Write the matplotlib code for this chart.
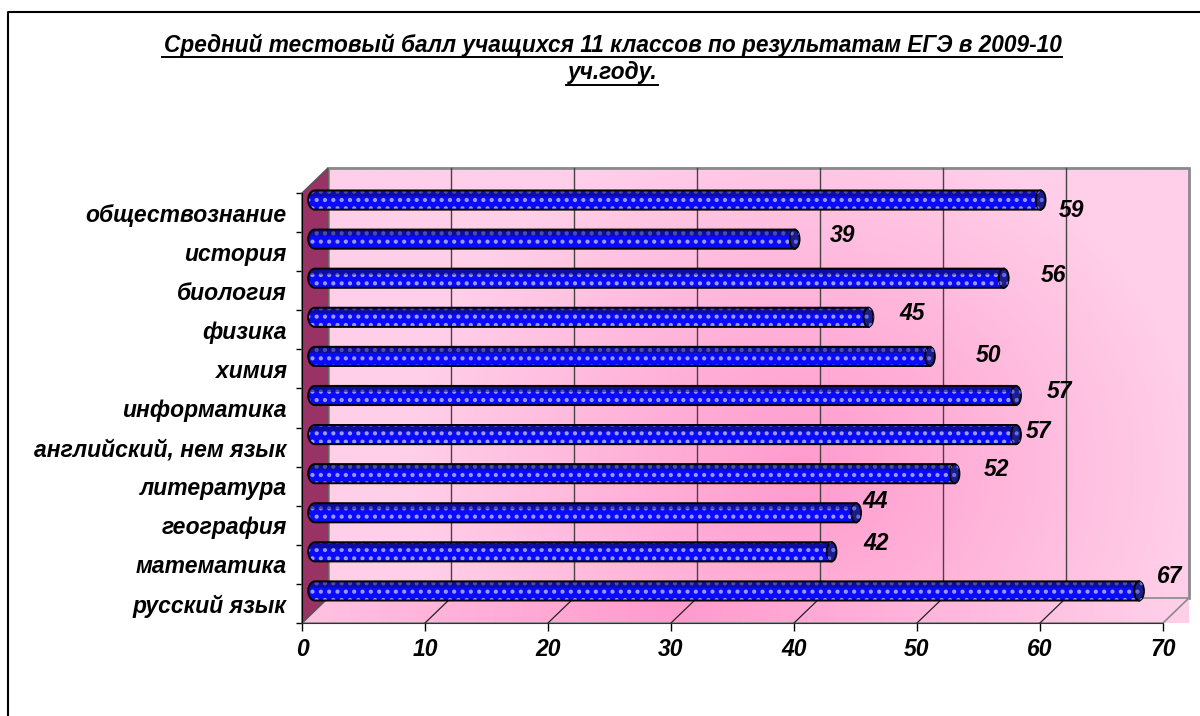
import numpy as np
import matplotlib
matplotlib.use('Agg')
import matplotlib.pyplot as plt
from matplotlib.patches import Polygon, Rectangle, Ellipse
from matplotlib.lines import Line2D

# data, bottom to top as in the chart
subjects = ['русский язык', 'математика', 'география', 'литература',
            'английский, нем язык', 'информатика', 'химия', 'физика',
            'биология', 'история', 'обществознание']
scores = [67, 42, 44, 52, 57, 57, 50, 45, 56, 39, 59]
x_ticks = [0, 10, 20, 30, 40, 50, 60, 70]
title_lines = ['Средний тестовый балл учащихся 11 классов по результатам ЕГЭ в 2009-10',
               'уч.году.']

# excel put the value labels a bit irregularly, nudges in pixels from bar end
label_nudge = [(31, 14), (45, 8), (19, 11), (42, 4), (22, 3), (43, 4),
               (59, 1), (44, 4), (50, 3), (48, 4), (31, -10)]

# 3d depth offset in data units (~26px right, 25px up)
DX = 2.11
DY = 0.64
BAR_H = 0.49
XMAX = 70
N = len(subjects)

FONT = dict(family='Liberation Sans', style='italic', weight='bold')
plt.rcParams['hatch.linewidth'] = 1.8

fig = plt.figure(figsize=(12, 7.16), dpi=100)
ax = fig.add_axes([302 / 1200, 1 - 623 / 716, 861 / 1200, 430 / 716])
ax.set_xlim(0, XMAX)
ax.set_ylim(0, N)
ax.patch.set_visible(False)

# back wall with a radial pink gradient
light = np.array([255, 206, 232]) / 255
dark = np.array([255, 155, 205]) / 255
gx, gy = np.meshgrid(np.linspace(0, 1, 300), np.linspace(0, 1, 200))
t = np.clip(np.sqrt(((gx - 0.55) / 0.45) ** 2 + ((gy - 0.3) / 0.8) ** 2), 0, 1)
img = dark + (light - dark) * t[..., None]
ax.imshow(img, extent=(DX, XMAX + DX, DY, N + DY), origin='lower',
          aspect='auto', zorder=0, clip_on=False)
ax.add_patch(Rectangle((DX, DY), XMAX, N, fill=False, ec='#8a8a8a', lw=2,
                       zorder=1, clip_on=False))

# floor
floor = Polygon([(0, 0), (XMAX, 0), (XMAX + DX, DY), (DX, DY)], closed=True,
                fc='none', ec='#8a8a8a', lw=1.2, zorder=2, clip_on=False)
ax.add_patch(floor)
fx, fy = np.meshgrid(np.linspace(0, 1, 300), np.linspace(0, 1, 20))
ft = np.clip(np.abs(fx - 0.42) / 0.55, 0, 1)
fimg = dark + (light - dark) * ft[..., None]
fim = ax.imshow(fimg, extent=(0, XMAX + DX, 0, DY), origin='lower',
                aspect='auto', zorder=1, clip_on=False)
fim.set_clip_path(floor)

# left wall
ax.add_patch(Polygon([(0, 0), (DX, DY), (DX, N + DY), (0, N)], closed=True,
                     fc='#993366', ec='#555555', lw=1, zorder=2, clip_on=False))

# gridlines on wall and floor
for x in x_ticks[1:-1]:
    ax.add_line(Line2D([x + DX, x + DX], [DY, N + DY], color='#444444', lw=1,
                       zorder=1.5, clip_on=False))
    ax.add_line(Line2D([x, x + DX], [0, DY], color='#222222', lw=0.9,
                       zorder=2.5, clip_on=False))


def draw_bar(yc, v):
    x0 = DX / 2
    h = BAR_H
    rx = 0.55
    tt = np.linspace(-np.pi / 2, np.pi / 2, 30)
    arc = np.column_stack([x0 - rx * np.cos(tt), yc + h / 2 * np.sin(tt)])
    pts = np.vstack([[[x0 + v, yc - h / 2]], arc, [[x0 + v, yc + h / 2]]])
    ax.add_patch(Polygon(pts, closed=True, fc='#0a0aff', ec='none', zorder=3,
                         clip_on=False))
    ax.add_patch(Polygon(pts, closed=True, fc='none', ec='#9a9aff', lw=0,
                         hatch='..', zorder=3.1, clip_on=False))
    # darker top of the cylinder
    top = np.vstack([[[x0 + v, yc + h * 0.18]], [[x0 - rx * 0.8, yc + h * 0.18]],
                     arc[arc[:, 1] > yc + h * 0.18], [[x0 + v, yc + h / 2]]])
    ax.add_patch(Polygon(top, closed=True, fc='#10105a', ec='none', alpha=0.55,
                         zorder=3.2, clip_on=False))
    ax.add_patch(Polygon(pts, closed=True, fc='none', ec='black', lw=1.4,
                         zorder=3.3, clip_on=False))
    # end cap
    ax.add_patch(Ellipse((x0 + v, yc), 0.8, h, fc='#1c1c8c', ec='black', lw=1.3,
                         zorder=3.4, clip_on=False))
    ax.add_patch(Ellipse((x0 + v, yc), 0.8, h, fc='none', ec='#6a6ae0', lw=0,
                         hatch='..', zorder=3.45, clip_on=False))


for i, v in enumerate(scores):
    draw_bar(i + 0.5 + DY / 2, v)
    ax.annotate(str(v), xy=(DX / 2 + v, i + 0.5 + DY / 2),
                xytext=label_nudge[i], textcoords='offset pixels',
                ha='center', va='center', fontsize=16.5, annotation_clip=False,
                **FONT)

# axes look
for s in ['top', 'right']:
    ax.spines[s].set_visible(False)
ax.spines['left'].set_color('black')
ax.spines['bottom'].set_color('#333333')
ax.spines['left'].set_zorder(4)
ax.spines['bottom'].set_zorder(4)

ax.set_xticks(x_ticks)
ax.set_xticklabels([str(x) for x in x_ticks], fontsize=16.5, **FONT)
ax.tick_params(axis='x', direction='out', length=5.5, width=1, pad=5)

ax.set_yticks(range(N + 1))
ax.set_yticklabels([])
ax.set_yticks([i + 0.5 for i in range(N)], minor=True)
ax.set_yticklabels(subjects, minor=True, fontsize=16.5, **FONT)
ax.tick_params(axis='y', which='major', direction='out', length=4.5, width=1)
ax.tick_params(axis='y', which='minor', length=0, pad=11)

# title with underline
fig.canvas.draw()
renderer = fig.canvas.get_renderer()
for line, yp in zip(title_lines, [45, 73]):
    tx = fig.text(0.511, 1 - yp / 716, line, ha='center', va='center',
                  fontsize=16.3, **FONT)
    bb = tx.get_window_extent(renderer)
    uy = (716 - (yp + 12)) / 716
    fig.add_artist(Line2D([bb.x0 / 1200 - 0.002, bb.x1 / 1200], [uy, uy],
                          color='black', lw=1.4, transform=fig.transFigure))

# chart area border
fig.add_artist(Line2D([8 / 1200, 8 / 1200, 1.0], [0, 1 - 12 / 716, 1 - 12 / 716],
                      color='black', lw=1.5, transform=fig.transFigure))

fig.savefig('out.png', dpi=100)
